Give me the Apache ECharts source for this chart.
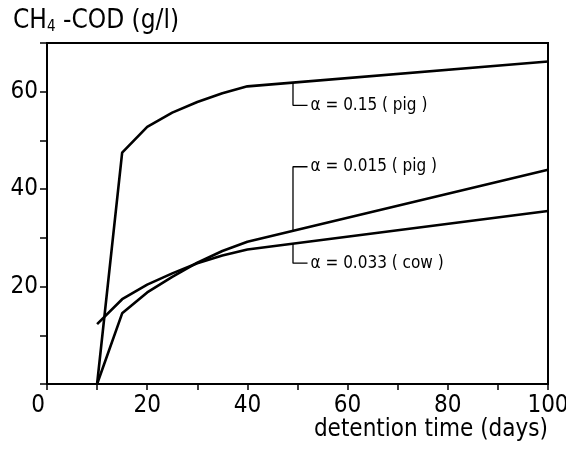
<!DOCTYPE html>
<html lang="en">
<head>
    <meta charset="UTF-8">
    <title>CH4-COD</title>
    <style>
        * {
            margin: 0;
            padding: 0;
        }

        html, body {
            height: 100%;
            width: 100%;
            background: #fff;
        }
    </style>
    <script src="https://cdn.jsdelivr.net/npm/echarts@6.0.0/dist/echarts.min.js"></script>
</head>
<body>

<div id="main" style="width: 566px;height: 452px;"></div>

<script>
    // detention time (days) and CH4-COD (g/l)
    var days = [10, 15, 20, 25, 30, 35, 40, 100];
    var pig015 = [0, 47.5, 52.8, 55.7, 57.9, 59.7, 61.1, 66.2];   // alpha = 0.15 (pig)
    var pig0015 = [0, 14.5, 18.8, 22.0, 24.9, 27.3, 29.2, 44.0];  // alpha = 0.015 (pig)
    var cow0033 = [12.3, 17.4, 20.4, 22.7, 24.8, 26.4, 27.6, 35.5]; // alpha = 0.033 (cow)

    var xTicks = [0, 20, 40, 60, 80, 100];
    var yTicks = [20, 40, 60];

    // label leaders (days, g/l)
    var leaderNames = ['α = 0.15 ( pig )', 'α = 0.015 ( pig )', 'α = 0.033 ( cow )'];
    var leader015 = [[49.1, 61.9], [49.1, 57.2], [52, 57.2]];
    var leader0015 = [[49.1, 31.4], [49.1, 44.6], [52, 44.6]];
    var leader0033 = [[49.1, 28.8], [49.1, 24.8], [52, 24.8]];

    var font = "'DejaVu Sans Condensed', 'DejaVu Sans', sans-serif";

    function pairs(xs, ys) {
        return xs.map(function (x, i) { return [x, ys[i]]; });
    }

    function curve(name, ys) {
        return {
            name: name,
            type: 'line',
            data: pairs(days, ys),
            showSymbol: false,
            silent: true,
            lineStyle: {color: '#000', width: 2.6},
            z: 3
        };
    }

    function leader(pts, text) {
        return {
            type: 'line',
            data: pts,
            showSymbol: false,
            silent: true,
            lineStyle: {color: '#000', width: 1.3},
            endLabel: {
                show: true,
                distance: 3,
                color: '#000',
                fontFamily: font,
                fontSize: 17,
                formatter: text
            }
        };
    }

    var myChart = echarts.init(document.getElementById('main'));

    var option = {
        animation: false,
        backgroundColor: '#fff',
        title: {
            text: 'CH{s|4} -COD (g/l)',
            left: 8,
            top: 3,
            textStyle: {
                fontFamily: font,
                fontSize: 26,
                fontWeight: 'normal',
                color: '#000',
                rich: {
                    s: {fontFamily: font, fontSize: 15, color: '#000', verticalAlign: 'bottom', padding: [12, 0, 0, 0]}
                }
            }
        },
        grid: {
            left: 47,
            right: 18,
            top: 43,
            bottom: 68,
            outerBoundsMode: 'none',
            show: true,
            borderColor: '#000',
            borderWidth: 2
        },
        xAxis: {
            type: 'value',
            min: 0,
            max: 100,
            interval: 10,
            name: 'detention time (days)',
            nameLocation: 'end',
            nameGap: 0,
            nameTextStyle: {
                fontFamily: font,
                fontSize: 24,
                color: '#000',
                align: 'right',
                verticalAlign: 'top',
                padding: [34, 0, 0, 0]
            },
            axisLine: {lineStyle: {color: '#000', width: 2}},
            axisTick: {inside: false, length: 6, lineStyle: {color: '#000', width: 1.5}},
            splitLine: {show: false},
            axisLabel: {
                margin: 10,
                fontFamily: font,
                fontSize: 24,
                color: '#000',
                formatter: function (v) {
                    if (xTicks.indexOf(v) < 0) return '';
                    return v === 0 ? '{z|0}' : String(v);
                },
                rich: {
                    z: {fontFamily: font, fontSize: 24, color: '#000', padding: [0, 18, 0, 0]}
                }
            }
        },
        yAxis: {
            type: 'value',
            min: 0,
            max: 70,
            interval: 10,
            axisLine: {show: true, lineStyle: {color: '#000', width: 2}},
            axisTick: {show: true, inside: false, length: 7, lineStyle: {color: '#000', width: 1.5}},
            splitLine: {show: false},
            axisLabel: {
                margin: 9,
                fontFamily: font,
                fontSize: 24,
                color: '#000',
                formatter: function (v) {
                    return yTicks.indexOf(v) >= 0 ? String(v) : '';
                }
            }
        },
        series: [
            curve('α = 0.15 (pig)', pig015),
            curve('α = 0.015 (pig)', pig0015),
            curve('α = 0.033 (cow)', cow0033),
            leader(leader015, leaderNames[0]),
            leader(leader0015, leaderNames[1]),
            leader(leader0033, leaderNames[2])
        ]
    };
    myChart.setOption(option);
</script>

</body>
</html>
